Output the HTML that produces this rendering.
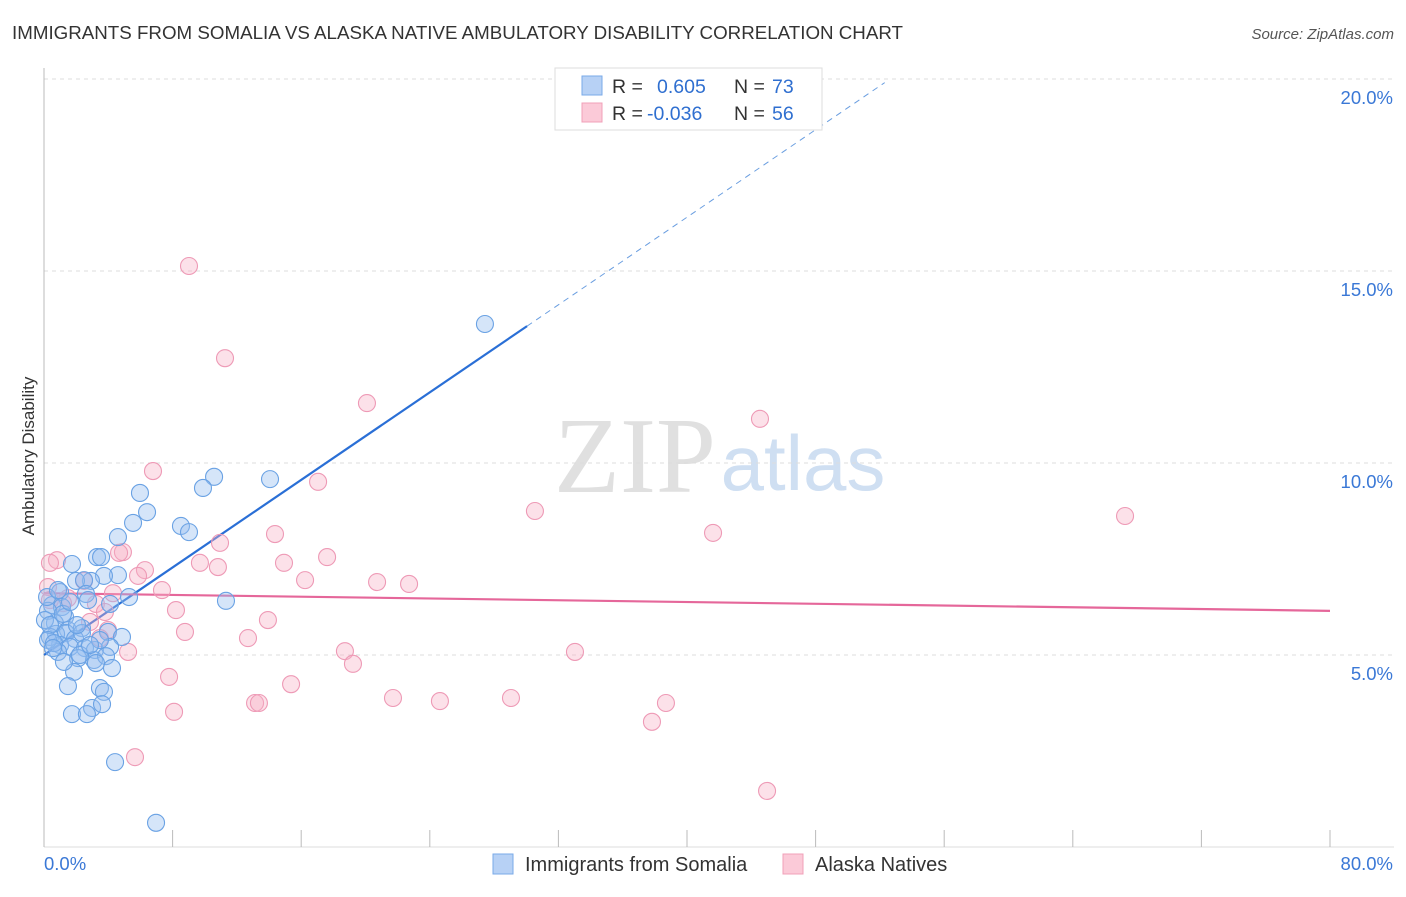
<!DOCTYPE html>
<html><head><meta charset="utf-8"><style>
body{margin:0;background:#fff;font-family:"Liberation Sans",sans-serif}
</style></head><body>
<svg width="1406" height="892" xmlns="http://www.w3.org/2000/svg" id="chart" style="font-family:'Liberation Sans',sans-serif">
<text x="12" y="39" font-size="18" fill="#333" textLength="891" lengthAdjust="spacingAndGlyphs">IMMIGRANTS FROM SOMALIA VS ALASKA NATIVE AMBULATORY DISABILITY CORRELATION CHART</text>
<text x="1394" y="39" font-size="15" fill="#555" font-style="italic" text-anchor="end">Source: ZipAtlas.com</text>
<g>
<text x="635" y="492" font-size="108" font-family="'Liberation Serif',serif" fill="#e0e0e0" text-anchor="middle">ZIP</text>
<text x="803" y="490" font-size="78" fill="#cfdff2" text-anchor="middle">atlas</text>
</g>
<g id="grid"></g>
<g id="axes"></g>
<g id="trend"></g>
<g id="pts"></g>
<text transform="translate(34,456) rotate(-90)" font-size="17" fill="#333" text-anchor="middle">Ambulatory Disability</text>
<g>
<rect x="555" y="68" width="267" height="62" fill="#fff" stroke="#ddd"/>
<rect x="582" y="76" width="20" height="19" fill="#b7d1f5" stroke="#7aaae8"/>
<rect x="582" y="103" width="20" height="19" fill="#fbcad8" stroke="#f0a0b8"/>
<text x="612" y="93" font-size="19.5" fill="#333">R =</text><text x="657" y="93" font-size="19.5" fill="#2f6fd0">0.605</text>
<text x="734" y="93" font-size="19.5" fill="#333">N =</text><text x="772" y="93" font-size="19.5" fill="#2f6fd0">73</text>
<text x="612" y="120" font-size="19.5" fill="#333">R =</text><text x="647" y="120" font-size="19.5" fill="#2f6fd0">-0.036</text>
<text x="734" y="120" font-size="19.5" fill="#333">N =</text><text x="772" y="120" font-size="19.5" fill="#2f6fd0">56</text>
</g>
<g>
<rect x="493" y="854" width="20" height="20" fill="#b7d1f5" stroke="#7aaae8"/>
<text x="525" y="871" font-size="20" fill="#333">Immigrants from Somalia</text>
<rect x="783" y="854" width="20" height="20" fill="#fbcad8" stroke="#f0a0b8"/>
<text x="815" y="871" font-size="20" fill="#333">Alaska Natives</text>
</g>
</svg>
<script>
const blueX=[27.43,14.06,10.58,9.89,5.97,6.41,5.54,8.52,9.02,4.60,11.32,3.30,3.55,1.74,4.60,3.73,2.92,1.99,2.49,1.00,5.29,4.11,2.61,0.50,1.12,0.25,1.31,0.68,1.49,2.36,0.75,1.37,0.37,1.93,2.36,3.98,4.85,1.00,1.62,2.55,3.17,4.11,0.87,2.12,3.11,3.86,4.23,1.87,1.49,3.48,3.73,2.99,3.61,1.74,2.67,4.42,6.97,0.19,0.06,0.37,0.25,0.62,1.18,1.62,2.24,3.23,0.56,2.74,1.24,2.05,3.48,0.87,2.86];
const blueY=[13.62,9.58,9.64,9.35,9.22,8.72,8.44,8.36,8.20,8.07,6.41,7.55,7.55,7.37,7.08,7.06,6.93,6.93,6.95,6.64,6.51,6.33,6.59,6.30,6.25,6.15,5.99,5.83,5.65,5.70,5.55,5.57,5.47,5.42,5.57,5.60,5.47,5.26,5.21,5.18,5.13,5.21,5.08,4.92,4.87,4.97,4.66,4.56,4.19,4.14,4.04,3.62,3.72,3.46,3.46,2.21,0.63,6.51,5.91,5.78,5.39,5.31,6.07,6.38,5.00,4.79,5.18,6.43,4.82,5.78,5.39,6.69,5.26];
const pinkX=[9.02,11.26,20.09,44.54,6.78,17.05,30.54,67.25,41.62,14.37,10.95,4.91,4.67,0.81,0.37,17.61,9.70,14.93,10.82,6.28,5.85,16.24,20.72,22.71,7.34,0.25,2.49,4.29,1.49,3.23,8.21,3.79,3.98,1.18,8.77,13.93,12.69,18.72,5.23,33.03,19.22,7.78,15.37,21.71,24.63,29.05,13.13,13.37,38.69,8.09,37.82,5.66,44.98,0.37,2.86,3.48];
const pinkY=[15.13,12.73,11.56,11.15,9.79,9.51,8.75,8.62,8.18,8.15,7.92,7.68,7.66,7.47,7.40,7.55,7.40,7.40,7.29,7.21,7.06,6.95,6.90,6.85,6.69,6.77,6.93,6.61,6.48,6.33,6.17,6.12,5.65,6.35,5.60,5.91,5.44,5.10,5.08,5.08,4.77,4.43,4.24,3.88,3.80,3.88,3.75,3.75,3.75,3.52,3.26,2.34,1.46,6.43,5.86,5.44];
const yTicks=[5,10,15,20];
const xTicks=[0,8,16,24,32,40,48,56,64,72,80];
const blueTrend=[5.0,0.285]; // intercept, slope
const blueSolidEnd=30.05, blueDashEnd=52.3;
const pinkTrend=[6.61,-0.00575];

const NS="http://www.w3.org/2000/svg";
const sx=v=>44+v*1286/80;
const sy=v=>847-v*38.4;
function mk(parent,tag,attrs){const e=document.createElementNS(NS,tag);for(const k in attrs)e.setAttribute(k,attrs[k]);document.getElementById(parent).appendChild(e);return e;}
yTicks.forEach(t=>{
 const l=mk('grid','line',{x1:44,x2:1394,y1:sy(t),y2:sy(t),stroke:'#ddd','stroke-dasharray':'4,4'});
 
 
 const tx=mk('grid','text',{x:1393,y:sy(t)+25,'font-size':18.5,fill:'#3a78d6','text-anchor':'end'});
 tx.textContent=t.toFixed(1)+'%';
 
 
});
const ax=mk('axes','line',{x1:44,x2:44,y1:68,y2:847,stroke:'#bbb'});


const bx=mk('axes','line',{x1:44,x2:1394,y1:847,y2:847,stroke:'#ddd'});


xTicks.forEach(t=>{
 const l=mk('axes','line',{x1:sx(t),x2:sx(t),y1:830,y2:847,stroke:'#bbb'});
 
 
});
[[0,'start',44],[80,'end',1393]].forEach(([v,a,x])=>{
 const tx=mk('axes','text',{x:x,y:870,'font-size':18.5,fill:'#3a78d6','text-anchor':a});
 tx.textContent=v.toFixed(1)+'%';
 
 
});
function pts(X,Y,fill,stroke,name){X.forEach((x,i)=>{
 const c=mk('pts','circle',{cx:sx(x),cy:sy(Y[i]),r:8.5,fill:fill,stroke:stroke,'stroke-width':1.1});
 
 
});}
pts(pinkX,pinkY,'rgba(246,175,198,0.38)','#ee9ab6','point-alaska-native');
pts(blueX,blueY,'rgba(150,190,240,0.4)','#6aa2e4','point-somalia');
const bl=mk('trend','line',{x1:sx(0),y1:sy(blueTrend[0]),x2:sx(blueSolidEnd),y2:sy(blueTrend[0]+blueTrend[1]*blueSolidEnd),stroke:'#2a6fd6','stroke-width':2.2});


const bd=mk('trend','line',{x1:sx(blueSolidEnd),y1:sy(blueTrend[0]+blueTrend[1]*blueSolidEnd),x2:sx(blueDashEnd),y2:sy(blueTrend[0]+blueTrend[1]*blueDashEnd),stroke:'#6a9ee0','stroke-width':1,'stroke-dasharray':'6,5'});


const pl=mk('trend','line',{x1:sx(0),y1:sy(pinkTrend[0]),x2:sx(80),y2:sy(pinkTrend[0]+pinkTrend[1]*80),stroke:'#e5679a','stroke-width':2.2});


</script>
</body></html>
